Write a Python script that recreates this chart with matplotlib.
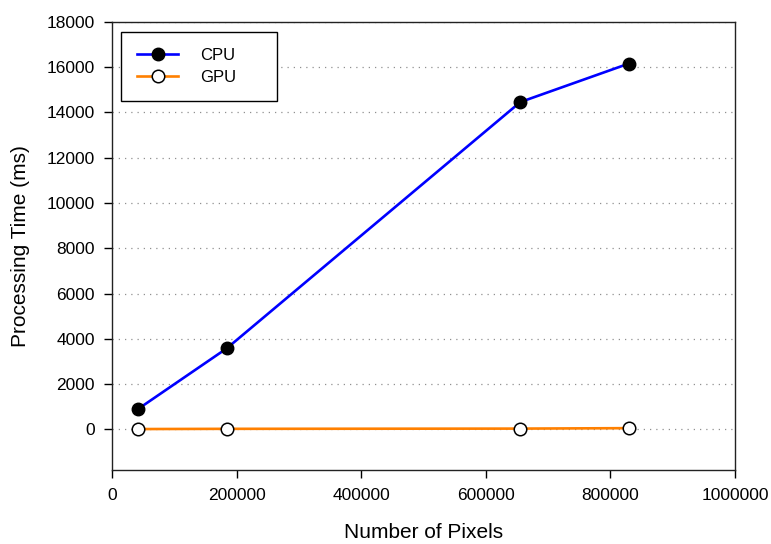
import matplotlib
matplotlib.use("Agg")
import matplotlib.pyplot as plt
import numpy as np

plt.rcParams['font.family'] = ['Liberation Sans', 'DejaVu Sans']

# data
pixels = [40960, 184320, 655360, 829440]
cpu_ms = [880, 3580, 14460, 16160]
gpu_ms = [10, 20, 30, 50]

xticks = np.arange(0, 1000001, 200000)
yticks = np.arange(0, 18001, 2000)


def main():
    fig = plt.figure(figsize=(7.71, 5.44), dpi=100)
    ax = fig.add_axes([0.1453, 0.136, 0.8080, 0.8236])

    for y in yticks:
        ax.axhline(y, color='#909090', linestyle=(0, (1, 4)), linewidth=0.9, zorder=0)

    ax.plot(pixels, cpu_ms, color='#0000ff', linewidth=1.9, marker='o',
            markersize=9, markerfacecolor='black', markeredgecolor='black',
            label='CPU', zorder=3)
    ax.plot(pixels, gpu_ms, color='#ff8000', linewidth=1.9, marker='o',
            markersize=9, markerfacecolor='white', markeredgecolor='black',
            markeredgewidth=1.1, label='GPU', zorder=3)

    ax.set_xlim(0, 1000000)
    ax.set_ylim(-1800, 18000)
    ax.set_xticks(xticks)
    ax.set_yticks(yticks)
    ax.set_xticklabels([str(v) for v in xticks])
    ax.set_yticklabels([str(v) for v in yticks])
    ax.tick_params(axis='both', labelsize=12.5, colors='black', direction='out')
    ax.tick_params(axis='y', length=6, width=1, pad=6.5)
    ax.tick_params(axis='x', length=6, width=1, pad=7)

    for s in ax.spines.values():
        s.set_linewidth(1.0)
        s.set_color('#222222')

    ax.set_xlabel('Number of Pixels', fontsize=15, labelpad=14)
    ax.set_ylabel('Processing Time (ms)', fontsize=15, labelpad=12)

    leg = ax.legend(loc='upper left', bbox_to_anchor=(0.0144, 0.9777, 0.25, 0.0),
                    mode='expand', fontsize=12, handlelength=2.5,
                    handletextpad=1.3, borderpad=0.95, labelspacing=0.45,
                    fancybox=False, framealpha=1, edgecolor='black',
                    borderaxespad=0)
    leg.get_frame().set_linewidth(1.0)

    fig.savefig('out.png', dpi=100)


if __name__ == "__main__":
    main()
